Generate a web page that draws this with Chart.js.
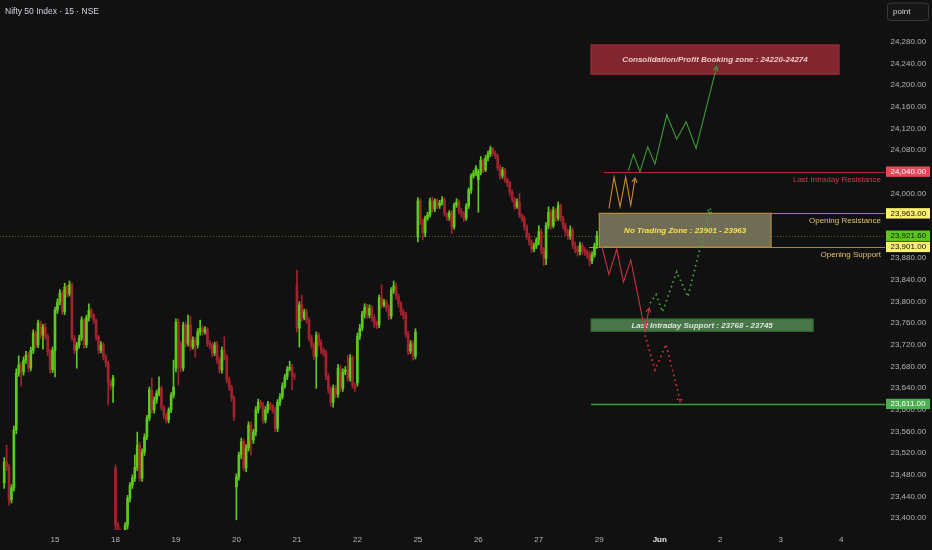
<!DOCTYPE html>
<html>
<head>
<meta charset="utf-8">
<script src="https://cdn.jsdelivr.net/npm/chart.js@4.4.1/dist/chart.umd.min.js"></script>
<style>
  html, body { margin: 0; padding: 0; background: #111111; overflow: hidden; }
  #wrap { width: 932px; height: 550px; }
</style>
</head>
<body>
<div id="wrap"><canvas id="chart"></canvas></div>
<script>
const titleText = 'Nifty 50 Index · 15 · NSE'

// x axis: one unit per 15 min bar, a session = 25 bars
const dayTicks = [25, 50, 75, 100, 125, 150, 175, 200, 225, 250, 275, 300, 325, 350]
const dayLabels = ['15', '18', '19', '20', '21', '22', '25', '26', '27', '29', 'Jun', '2', '3', '4']
const firstBar = 4

// OHLC, one row per session
const opens = [
  23465, 23504, 23494, 23434, 23456, 23563, 23668, 23683, 23670, 23692, 23701, 23677, 23710, 23742, 23720, 23760, 23738, 23753, 23735, 23707, 23674,
  23710, 23784, 23799, 23816, 23781, 23827, 23814, 23831, 23733, 23710, 23720, 23733, 23766, 23720, 23770, 23784, 23775, 23766, 23735, 23710, 23720, 23698, 23686, 23650, 23644,
  23493, 23387, 23378, 23360, 23369, 23387, 23437, 23461, 23474, 23494, 23535, 23474, 23522, 23550, 23585, 23637, 23600, 23618, 23631, 23640, 23605, 23590, 23581, 23600, 23627,
  23677, 23762, 23720, 23677, 23757, 23723, 23757, 23716, 23729, 23720, 23744, 23751, 23744, 23749, 23723, 23720, 23705, 23720, 23692, 23674, 23710, 23698, 23655, 23642, 23622,
  23458, 23476, 23517, 23541, 23493, 23530, 23572, 23544, 23559, 23600, 23614, 23609, 23581, 23600, 23611, 23607, 23600, 23566, 23614, 23624, 23644, 23661, 23675, 23679, 23664,
  23831, 23751, 23794, 23770, 23781, 23766, 23733, 23720, 23699, 23738, 23725, 23710, 23705, 23662, 23637, 23614, 23640, 23629, 23677, 23640, 23670, 23674, 23659, 23696, 23646,
  23650, 23736, 23751, 23777, 23790, 23775, 23788, 23770, 23759, 23757, 23807, 23794, 23799, 23788, 23773, 23821, 23829, 23810, 23797, 23781, 23775, 23740, 23709, 23722, 23699,
  23919, 23986, 23947, 23927, 23954, 23960, 23986, 23971, 23986, 23977, 23982, 23988, 23962, 23956, 23964, 23938, 23978, 23984, 23967, 23962, 23954, 23977, 24006, 24032, 24037,
  24025, 24039, 24061, 24043, 24065, 24073, 24082, 24074, 24069, 24047, 24032, 24043, 24025, 24019, 24002, 23989, 23975, 23984, 23960, 23954, 23938, 23921, 23910, 23897, 23903,
  23914, 23929, 23895, 23880, 23941, 23965, 23940, 23969, 23954, 23977, 23954, 23940, 23929, 23921, 23932, 23904, 23897, 23892, 23904, 23895, 23892, 23888, 23875, 23886, 23903
]
const highs = [
  23512, 23535, 23500, 23462, 23570, 23676, 23700, 23688, 23698, 23708, 23706, 23716, 23748, 23746, 23766, 23764, 23758, 23760, 23740, 23712, 23716,
  23790, 23805, 23822, 23820, 23834, 23830, 23838, 23834, 23738, 23725, 23738, 23772, 23768, 23775, 23796, 23788, 23778, 23768, 23738, 23726, 23724, 23702, 23690, 23655, 23664,
  23498, 23392, 23380, 23374, 23392, 23442, 23466, 23480, 23517, 23559, 23540, 23528, 23556, 23590, 23642, 23659, 23624, 23636, 23661, 23644, 23608, 23594, 23604, 23632, 23692,
  23768, 23768, 23726, 23762, 23762, 23775, 23773, 23735, 23734, 23750, 23766, 23755, 23754, 23752, 23728, 23724, 23725, 23726, 23697, 23716, 23735, 23702, 23660, 23646, 23626,
  23482, 23522, 23548, 23546, 23536, 23578, 23578, 23564, 23606, 23620, 23618, 23614, 23606, 23616, 23614, 23610, 23605, 23619, 23630, 23650, 23666, 23680, 23690, 23684, 23668,
  23858, 23800, 23812, 23786, 23786, 23770, 23738, 23724, 23744, 23742, 23730, 23714, 23710, 23667, 23642, 23646, 23645, 23684, 23682, 23676, 23680, 23701, 23702, 23700, 23650,
  23742, 23758, 23782, 23796, 23795, 23794, 23792, 23776, 23764, 23812, 23831, 23804, 23803, 23794, 23826, 23838, 23834, 23814, 23800, 23786, 23780, 23745, 23728, 23727, 23750,
  23992, 23990, 23952, 23958, 23965, 23991, 23993, 23990, 23990, 23987, 23994, 23992, 23964, 23968, 23968, 23982, 23990, 23988, 23972, 23966, 23981, 24010, 24036, 24042, 24051,
  24044, 24068, 24064, 24070, 24078, 24087, 24085, 24078, 24072, 24052, 24048, 24046, 24028, 24022, 24006, 23992, 23990, 24000, 23962, 23958, 23942, 23926, 23914, 23908, 23918,
  23940, 23934, 23900, 23946, 23975, 23970, 23975, 23972, 23984, 23980, 23958, 23945, 23934, 23940, 23936, 23910, 23902, 23910, 23908, 23900, 23896, 23892, 23892, 23908, 23930
]
const lows = [
  23455, 23488, 23424, 23428, 23450, 23556, 23662, 23644, 23664, 23686, 23670, 23672, 23704, 23714, 23715, 23732, 23712, 23730, 23700, 23668, 23669,
  23661, 23778, 23794, 23776, 23776, 23808, 23810, 23728, 23704, 23677, 23714, 23728, 23714, 23715, 23764, 23770, 23760, 23729, 23704, 23705, 23692, 23680, 23609, 23638, 23614,
  23370, 23365, 23345, 23352, 23362, 23380, 23430, 23455, 23468, 23488, 23468, 23468, 23516, 23545, 23580, 23594, 23594, 23612, 23626, 23600, 23584, 23576, 23576, 23595, 23622,
  23670, 23646, 23670, 23672, 23716, 23718, 23710, 23712, 23697, 23714, 23738, 23738, 23740, 23717, 23713, 23698, 23700, 23686, 23668, 23668, 23692, 23650, 23636, 23616, 23580,
  23397, 23470, 23510, 23488, 23486, 23524, 23517, 23538, 23552, 23594, 23603, 23575, 23576, 23594, 23600, 23594, 23560, 23560, 23608, 23620, 23640, 23656, 23672, 23637, 23656,
  23744, 23716, 23764, 23766, 23760, 23727, 23714, 23693, 23640, 23718, 23704, 23699, 23656, 23631, 23607, 23605, 23623, 23623, 23634, 23634, 23665, 23653, 23653, 23640, 23634,
  23644, 23730, 23746, 23770, 23769, 23770, 23764, 23752, 23750, 23752, 23788, 23790, 23782, 23766, 23768, 23815, 23804, 23790, 23775, 23768, 23734, 23702, 23704, 23692, 23694,
  23910, 23942, 23914, 23920, 23950, 23956, 23965, 23966, 23972, 23972, 23978, 23958, 23950, 23950, 23925, 23934, 23974, 23962, 23956, 23948, 23950, 23972, 24000, 24028, 24032,
  23965, 24034, 24038, 24040, 24060, 24068, 24070, 24064, 24042, 24026, 24028, 24020, 24012, 23996, 23984, 23970, 23972, 23955, 23948, 23932, 23915, 23904, 23890, 23892, 23898,
  23905, 23888, 23867, 23868, 23935, 23934, 23936, 23948, 23950, 23948, 23934, 23922, 23915, 23915, 23898, 23890, 23884, 23886, 23888, 23885, 23880, 23866, 23870, 23882, 23898
]
const closes = [
  23504, 23494, 23434, 23456, 23563, 23668, 23683, 23670, 23692, 23701, 23677, 23710, 23742, 23720, 23760, 23738, 23753, 23735, 23707, 23674, 23710,
  23784, 23799, 23816, 23781, 23827, 23814, 23831, 23733, 23710, 23720, 23733, 23766, 23720, 23770, 23784, 23775, 23766, 23735, 23710, 23720, 23698, 23686, 23650, 23644, 23659,
  23387, 23378, 23360, 23369, 23387, 23437, 23461, 23474, 23494, 23535, 23474, 23522, 23550, 23585, 23637, 23600, 23618, 23631, 23640, 23605, 23590, 23581, 23600, 23627, 23642,
  23762, 23720, 23677, 23757, 23723, 23757, 23716, 23729, 23720, 23744, 23751, 23744, 23749, 23723, 23720, 23705, 23720, 23692, 23674, 23710, 23698, 23655, 23642, 23622, 23587,
  23476, 23517, 23541, 23493, 23530, 23572, 23544, 23559, 23600, 23614, 23609, 23581, 23600, 23611, 23607, 23600, 23566, 23614, 23624, 23644, 23661, 23675, 23679, 23664, 23662,
  23751, 23794, 23770, 23781, 23766, 23733, 23720, 23699, 23738, 23725, 23710, 23705, 23662, 23637, 23614, 23640, 23629, 23677, 23640, 23670, 23674, 23659, 23696, 23646, 23640,
  23736, 23751, 23777, 23790, 23775, 23788, 23770, 23759, 23757, 23807, 23794, 23799, 23788, 23773, 23821, 23829, 23810, 23797, 23781, 23775, 23740, 23709, 23722, 23699, 23744,
  23986, 23947, 23927, 23954, 23960, 23986, 23971, 23986, 23977, 23982, 23988, 23962, 23956, 23964, 23938, 23978, 23984, 23967, 23962, 23954, 23977, 24006, 24032, 24037, 24047,
  24039, 24061, 24043, 24065, 24073, 24082, 24074, 24069, 24047, 24032, 24043, 24025, 24019, 24002, 23989, 23975, 23984, 23960, 23954, 23938, 23921, 23910, 23897, 23903, 23914,
  23929, 23895, 23880, 23941, 23965, 23940, 23969, 23954, 23977, 23954, 23940, 23929, 23921, 23932, 23904, 23897, 23892, 23904, 23895, 23892, 23888, 23875, 23886, 23903, 23921.6
]
const lastPrice = 23921.6

// price axis labels stop below the unit button
const axisTop = 24300

// drawn levels
const levelPrices = [24040, 23963, 23901, 23611]
const levelNames = ['Last Intraday Resistance', 'Opening Resistance', 'Opening Support', '']
const levelStarts = [251.9, 250.0, 245.8, 246.6]

// drawn zones
const zoneNames = ['Consolidation/Profit Booking zone : 24220-24274', 'No Trading Zone : 23901 - 23963', 'Last Intraday Support : 23768 - 23745']
const zoneLow = [24220, 23901, 23745]
const zoneHigh = [24274, 23963, 23768]
const zoneFrom = [246.6, 250.0, 246.6]
const zoneTo = [349.1, 321.0, 338.4]

// projected paths
const bullX = [262.0, 264.1, 266.8, 270.0, 273.0, 277.9, 282.0, 285.9, 290.0, 298.5]
const bullY = [24042, 24072, 24040, 24086, 24054, 24145, 24100, 24132, 24083, 24234]
const testX = [254.0, 256.1, 258.6, 260.9, 263.0, 264.8]
const testY = [23972, 24030, 23975, 24030, 23978, 24028]
const bearX = [251.1, 254.0, 257.2, 260.0, 263.0, 268.9, 270.6]
const bearY = [23901, 23850, 23897, 23836, 23877, 23746, 23788]
const bounceX = [271.0, 273.5, 276.1, 282.0, 286.6, 295.8]
const bounceY = [23797, 23813, 23781, 23855, 23809, 23972]
const breakX = [268.9, 273.0, 277.6, 283.6]
const breakY = [23738, 23674, 23721, 23614]

// price tags on the axis
const tagPrices = [24040, 23963, 23921.6, 23901, 23611]

const upColor = '#5ccc1c'
const downColor = '#a3222f'
const font = '"Liberation Sans", Arial, sans-serif'

const barX = closes.map((c, k) => firstBar + k)
const candleColors = closes.map((c, k) => c >= opens[k] ? upColor : downColor)
const wickData = barX.map((x, k) => ({ x: x, y: [lows[k], highs[k]] }))
const bodyData = barX.map((x, k) => ({ x: x, y: [Math.min(opens[k], closes[k]), Math.max(opens[k], closes[k])] }))

function points(xs, ys) {
    return xs.map((x, k) => ({ x: x, y: ys[k] }))
}

function priceText(v) {
    return v.toLocaleString('en-US', { minimumFractionDigits: 2, maximumFractionDigits: 2 })
}

function isMonth(c) {
    return !!(c && c.tick && dayLabels[dayTicks.indexOf(c.tick.value)] == 'Jun')
}

function pathSet(xs, ys, color, dash) {
    return {
        type: 'line',
        data: points(xs, ys),
        borderColor: color,
        borderWidth: dash ? 1.7 : 1.1,
        borderDash: dash ? [1.6, 3.4] : [],
        pointRadius: 0,
        tension: 0,
        arrow: true,
        order: 0
    }
}

const overlay = {
    id: 'overlay',
    beforeDraw(chart) {
        const ctx = chart.ctx
        ctx.save()
        ctx.fillStyle = '#111111'
        ctx.fillRect(0, 0, chart.width, chart.height)
        ctx.restore()
    },
    beforeDatasetsDraw(chart) {
        const { ctx, chartArea: a } = chart
        const x = chart.scales.x, y = chart.scales.y
        ctx.save()

        // last price, dotted
        const ly = Math.round(y.getPixelForValue(lastPrice)) + 0.5
        ctx.strokeStyle = 'rgba(92,150,40,0.7)'
        ctx.lineWidth = 1
        ctx.setLineDash([1, 2])
        ctx.beginPath(); ctx.moveTo(a.left, ly); ctx.lineTo(a.right, ly); ctx.stroke()
        ctx.setLineDash([])

        // levels
        const lineColors = ['#b62a37', '#a88a3c', '#a88a3c', '#3f9e3f']
        const textColors = ['#d23a4c', '#e2c26a', '#e2c26a', '#3f9e3f']
        levelPrices.forEach((p, k) => {
            const py = Math.round(y.getPixelForValue(p)) + 0.5
            ctx.strokeStyle = lineColors[k]
            ctx.lineWidth = k == 3 ? 1.3 : 1
            ctx.beginPath()
            ctx.moveTo(x.getPixelForValue(levelStarts[k]), py)
            ctx.lineTo(a.right, py)
            ctx.stroke()
            if (levelNames[k]) {
                ctx.fillStyle = textColors[k]
                ctx.font = '8px ' + font
                ctx.textAlign = 'right'
                ctx.textBaseline = 'middle'
                ctx.fillText(levelNames[k], a.right - 4, py + 7)
            }
        })

        // zones
        const fills = ['rgba(150,42,54,0.85)', 'rgba(118,114,90,0.95)', 'rgba(76,124,76,0.95)']
        const borders = ['#a52a3a', '#b08e3a', '#2e6a32']
        const inks = ['#f1c7c7', '#f7e14e', '#d8e6d8']
        zoneNames.forEach((name, k) => {
            const x0 = x.getPixelForValue(zoneFrom[k]), x1 = x.getPixelForValue(zoneTo[k])
            const y0 = y.getPixelForValue(zoneHigh[k]), y1 = y.getPixelForValue(zoneLow[k])
            ctx.fillStyle = fills[k]
            ctx.fillRect(x0, y0, x1 - x0, y1 - y0)
            ctx.strokeStyle = borders[k]
            ctx.lineWidth = 1.2
            ctx.strokeRect(x0, y0, x1 - x0, y1 - y0)
            ctx.fillStyle = inks[k]
            ctx.font = 'italic bold 8px ' + font
            ctx.textAlign = 'center'
            ctx.textBaseline = 'middle'
            ctx.fillText(name, (x0 + x1) / 2, (y0 + y1) / 2 + 0.5)
        })
        ctx.restore()
    },
    afterDatasetsDraw(chart) {
        const ctx = chart.ctx
        ctx.save()
        chart.data.datasets.forEach((ds, i) => {
            if (!ds.arrow) return
            const pts = chart.getDatasetMeta(i).data
            const p = pts[pts.length - 1], q = pts[pts.length - 2]
            const ang = Math.atan2(p.y - q.y, p.x - q.x)
            ctx.strokeStyle = ds.borderColor
            ctx.lineWidth = ds.borderDash.length ? 1.5 : 1.1
            ctx.setLineDash(ds.borderDash.length ? [1.5, 2] : [])
            ctx.beginPath()
            ctx.moveTo(p.x - 5 * Math.cos(ang - 0.55), p.y - 5 * Math.sin(ang - 0.55))
            ctx.lineTo(p.x, p.y)
            ctx.lineTo(p.x - 5 * Math.cos(ang + 0.55), p.y - 5 * Math.sin(ang + 0.55))
            ctx.stroke()
        })
        ctx.restore()
    },
    afterDraw(chart) {
        const { ctx, chartArea: a } = chart
        const y = chart.scales.y
        ctx.save()

        // price tags
        const tagFill = ['#e8475a', '#fff06e', '#5cc81c', '#fff06e', '#4caf50']
        const tagInk = ['#ffffff', '#111111', '#111111', '#111111', '#ffffff']
        let prevBottom = -99
        tagPrices.forEach((p, k) => {
            let top = y.getPixelForValue(p) - 5.2
            if (top < prevBottom) top = prevBottom
            prevBottom = top + 10.4
            ctx.fillStyle = tagFill[k]
            ctx.fillRect(a.right + 1, top, chart.width - a.right - 3, 10.4)
            ctx.fillStyle = tagInk[k]
            ctx.font = '8px ' + font
            ctx.textAlign = 'left'
            ctx.textBaseline = 'middle'
            ctx.fillText(priceText(p), a.right + 5.5, top + 5.4)
        })

        // title
        ctx.fillStyle = '#d1d4dc'
        ctx.font = '8.5px ' + font
        ctx.textAlign = 'left'
        ctx.textBaseline = 'middle'
        ctx.fillText(titleText, 5, 12)

        // unit button
        ctx.fillStyle = '#161616'
        ctx.strokeStyle = '#3a3a3a'
        ctx.lineWidth = 1
        ctx.beginPath()
        ctx.roundRect(887.5, 3, 41, 17.5, 3)
        ctx.fill()
        ctx.stroke()
        ctx.fillStyle = '#d1d4dc'
        ctx.font = '8px ' + font
        ctx.fillText('point', 893, 11.5)
        ctx.restore()
    }
}

const chart = new Chart(document.getElementById('chart'), {
    type: 'bar',
    data: {
        datasets: [
            pathSet(bullX, bullY, '#3f9a37', false),
            pathSet(testX, testY, '#c98a30', false),
            pathSet(bearX, bearY, '#c8323e', false),
            pathSet(bounceX, bounceY, '#45a83c', true),
            pathSet(breakX, breakY, '#d4333f', true),
            {
                data: bodyData,
                backgroundColor: candleColors,
                barThickness: 2,
                minBarLength: 1,
                grouped: false,
                order: 1
            },
            {
                data: wickData,
                backgroundColor: candleColors,
                barThickness: 1,
                grouped: false,
                order: 2
            }
        ]
    },
    options: {
        responsive: true,
        maintainAspectRatio: false,
        animation: false,
        events: [],
        layout: { padding: 0 },
        plugins: {
            legend: { display: false },
            tooltip: { enabled: false }
        },
        scales: {
            x: {
                type: 'linear',
                min: 2.265,
                max: 368.1,
                offset: false,
                grid: { display: false, drawTicks: false },
                border: { display: false },
                afterBuildTicks: s => { s.ticks = dayTicks.map(v => ({ value: v })) },
                afterFit: s => { s.height = 20; s.paddingLeft = 0; s.paddingRight = 0 },
                ticks: {
                    autoSkip: false,
                    maxRotation: 0,
                    padding: 5,
                    color: c => isMonth(c) ? '#e6e6e6' : '#b4b4b4',
                    font: c => ({ family: font, size: 8, weight: isMonth(c) ? 'bold' : 'normal' }),
                    callback: v => dayLabels[dayTicks.indexOf(v)]
                }
            },
            y: {
                type: 'linear',
                position: 'right',
                min: 23378.2,
                max: 24357,
                grid: { display: false, drawTicks: false },
                border: { display: false },
                afterBuildTicks: s => { s.ticks = s.ticks.filter(t => t.value < axisTop) },
                afterFit: s => { s.width = 47; s.paddingTop = 0; s.paddingBottom = 0 },
                ticks: {
                    stepSize: 40,
                    includeBounds: false,
                    padding: 5.5,
                    color: '#b4b4b4',
                    font: { family: font, size: 8 },
                    callback: v => priceText(v)
                }
            }
        }
    },
    plugins: [overlay]
})
</script>
</body>
</html>
